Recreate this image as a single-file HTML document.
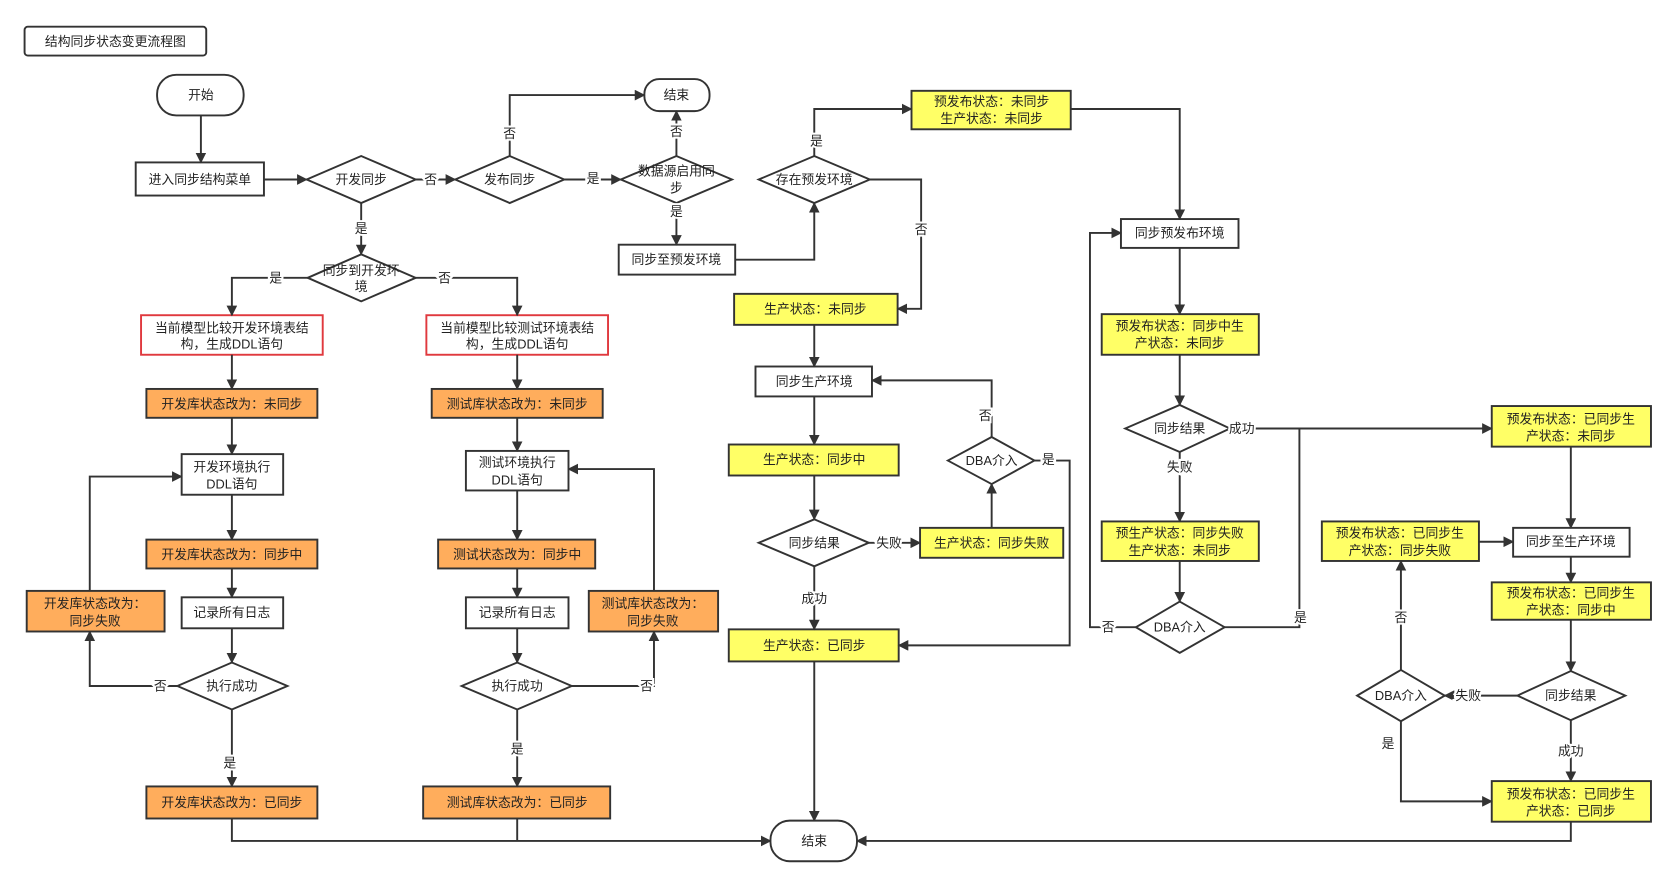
<!DOCTYPE html>
<html><head><meta charset="utf-8"><style>
html,body{margin:0;padding:0;background:#fff;}
svg{display:block;}
text{font-family:"Liberation Sans","Noto Sans CJK SC",sans-serif;font-size:12px;fill:#222;text-anchor:middle;dominant-baseline:central;}
.lbl{paint-order:stroke;stroke:#fff;stroke-width:4px;}
</style></head><body>
<svg width="1667" height="881" viewBox="0 0 1560 824.5" preserveAspectRatio="none" xmlns="http://www.w3.org/2000/svg">
<defs><marker id="a" markerWidth="10" markerHeight="10" refX="9" refY="5" orient="auto" markerUnits="userSpaceOnUse"><path d="M0,0 L10,5 L0,10 z" fill="#333"/></marker></defs>
<g fill="none" stroke="#333" stroke-width="1.8">
<!-- title -->
<rect x="23" y="25" width="170" height="27" rx="3" fill="#fff"/>
<!-- start -->
<rect x="147" y="70" width="81" height="38" rx="18" fill="#fff"/>
<rect x="127" y="152" width="120" height="31" fill="#fff"/>
<polygon points="287,168 338,146 389,168 338,190" fill="#fff"/>
<polygon points="426,168 477,146 528,168 477,190" fill="#fff"/>
<polygon points="581,168 633,146 685,168 633,190" fill="#fff"/>
<rect x="603" y="74" width="61" height="30" rx="14" fill="#fff"/>
<rect x="579" y="229" width="109" height="28" fill="#fff"/>
<polygon points="710,168 762,146 814,168 762,190" fill="#fff"/>
<rect x="853" y="85" width="149" height="36" fill="#ffff66"/>
<!-- middle -->
<rect x="687" y="275" width="153" height="29" fill="#ffff66"/>
<rect x="707" y="343" width="109" height="28" fill="#fff"/>
<rect x="682" y="416" width="159" height="29" fill="#ffff66"/>
<polygon points="710,508 762,486 813,508 762,530" fill="#fff"/>
<rect x="861" y="494" width="134" height="28" fill="#ffff66"/>
<polygon points="887,431 928,409 968,431 928,453" fill="#fff"/>
<rect x="682" y="589" width="159" height="30" fill="#ffff66"/>
<rect x="721" y="768" width="81" height="38" rx="18" fill="#fff"/>
<!-- left -->
<polygon points="288,260 338,238 389,260 338,282" fill="#fff"/>
<rect x="132" y="295" width="170" height="37" fill="#fff" stroke="#e0393e"/>
<rect x="399" y="295" width="170" height="37" fill="#fff" stroke="#e0393e"/>
<rect x="137" y="364" width="160" height="27" fill="#ffad5c"/>
<rect x="404" y="364" width="160" height="27" fill="#ffad5c"/>
<rect x="170" y="425" width="95" height="38" fill="#fff"/>
<rect x="436" y="422" width="96" height="37" fill="#fff"/>
<rect x="137" y="505" width="160" height="27" fill="#ffad5c"/>
<rect x="410" y="505" width="147" height="27" fill="#ffad5c"/>
<rect x="170" y="559" width="95" height="29" fill="#fff"/>
<rect x="436" y="559" width="96" height="29" fill="#fff"/>
<polygon points="166,642 217,620 269,642 217,664" fill="#fff"/>
<polygon points="432,642 484,620 535,642 484,664" fill="#fff"/>
<rect x="25" y="553" width="129" height="38" fill="#ffad5c"/>
<rect x="551" y="553" width="121" height="38" fill="#ffad5c"/>
<rect x="137" y="736" width="160" height="30" fill="#ffad5c"/>
<rect x="396" y="736" width="175" height="30" fill="#ffad5c"/>
<!-- right -->
<rect x="1049" y="205" width="110" height="27" fill="#fff"/>
<rect x="1031" y="294" width="147" height="38" fill="#ffff66"/>
<polygon points="1053,401 1104,379 1151,401 1104,423" fill="#fff"/>
<rect x="1031" y="488" width="147" height="37" fill="#ffff66"/>
<polygon points="1063,587 1104,563 1146,587 1104,611" fill="#fff"/>
<rect x="1396" y="380" width="149" height="38" fill="#ffff66"/>
<rect x="1416" y="494" width="109" height="27" fill="#fff"/>
<rect x="1237" y="488" width="147" height="37" fill="#ffff66"/>
<rect x="1396" y="545" width="149" height="35" fill="#ffff66"/>
<polygon points="1420,651 1470,628 1521,651 1470,674" fill="#fff"/>
<polygon points="1270,651 1311,627 1352,651 1311,675" fill="#fff"/>
<rect x="1396" y="731" width="149" height="38" fill="#ffff66"/>
</g>
<g fill="none" stroke="#333" stroke-width="1.8" marker-end="url(#a)">
<path d="M188,108 V152"/>
<path d="M247,168 H287"/>
<path d="M389,168 H426"/>
<path d="M528,168 H581"/>
<path d="M477,146 V89 H603"/>
<path d="M633,146 V104"/>
<path d="M633,190 V229"/>
<path d="M688,243 H762 V190"/>
<path d="M762,146 V102 H853"/>
<path d="M814,168 H862 V289 H840"/>
<path d="M762,304 V343"/>
<path d="M762,371 V416"/>
<path d="M762,445 V486"/>
<path d="M813,508 H861"/>
<path d="M928,494 V453"/>
<path d="M928,409 V356 H816"/>
<path d="M968,431 H1001 V604 H841"/>
<path d="M762,530 V589"/>
<path d="M762,619 V768"/>
<path d="M217,766 V787 H721"/>
<path d="M484,766 V787" marker-end="none"/>
<path d="M1470,769 V787 H802"/>
<path d="M338,190 V238"/>
<path d="M288,260 H217 V295"/>
<path d="M389,260 H484 V295"/>
<path d="M217,332 V364"/>
<path d="M484,332 V364"/>
<path d="M217,391 V425"/>
<path d="M484,391 V422"/>
<path d="M217,463 V505"/>
<path d="M484,459 V505"/>
<path d="M217,532 V559"/>
<path d="M484,532 V559"/>
<path d="M217,588 V620"/>
<path d="M484,588 V620"/>
<path d="M166,642 H84 V591"/>
<path d="M84,553 V446 H170"/>
<path d="M535,642 H612 V591"/>
<path d="M612,553 V439 H532"/>
<path d="M217,664 V736"/>
<path d="M484,664 V736"/>
<path d="M1002,102 H1104 V205"/>
<path d="M1104,232 V294"/>
<path d="M1104,332 V379"/>
<path d="M1151,401 H1396"/>
<path d="M1104,423 V488"/>
<path d="M1104,525 V563"/>
<path d="M1063,587 H1020 V218 H1049"/>
<path d="M1146,587 H1216 V401" marker-end="none"/>
<path d="M1470,418 V494"/>
<path d="M1384,507 H1416"/>
<path d="M1470,521 V545"/>
<path d="M1470,580 V628"/>
<path d="M1420,651 H1352"/>
<path d="M1311,627 V525"/>
<path d="M1311,675 V750 H1396"/>
<path d="M1470,674 V731"/>
</g>
<!-- node text -->
<text x="108" y="39">结构同步状态变更流程图</text>
<text x="188" y="89">开始</text>
<text x="187" y="168">进入同步结构菜单</text>
<text x="338" y="168">开发同步</text>
<text x="477" y="168">发布同步</text>
<text x="633" y="160">数据源启用同</text>
<text x="633" y="176">步</text>
<text x="633" y="89">结束</text>
<text x="633" y="243">同步至预发环境</text>
<text x="762" y="168">存在预发环境</text>
<text x="928" y="95">预发布状态：未同步</text>
<text x="928" y="111">生产状态：未同步</text>
<text x="763" y="289">生产状态：未同步</text>
<text x="762" y="357">同步生产环境</text>
<text x="762" y="430">生产状态：同步中</text>
<text x="762" y="508">同步结果</text>
<text x="928" y="508">生产状态：同步失败</text>
<text x="928" y="431">DBA介入</text>
<text x="762" y="604">生产状态：已同步</text>
<text x="762" y="787">结束</text>
<text x="338" y="253">同步到开发环</text>
<text x="338" y="268">境</text>
<text x="217" y="307">当前模型比较开发环境表结</text>
<text x="217" y="322">构，生成DDL语句</text>
<text x="484" y="307">当前模型比较测试环境表结</text>
<text x="484" y="322">构，生成DDL语句</text>
<text x="217" y="378">开发库状态改为：未同步</text>
<text x="484" y="378">测试库状态改为：未同步</text>
<text x="217" y="437">开发环境执行</text>
<text x="217" y="453">DDL语句</text>
<text x="484" y="433">测试环境执行</text>
<text x="484" y="449">DDL语句</text>
<text x="217" y="519">开发库状态改为：同步中</text>
<text x="484" y="519">测试状态改为：同步中</text>
<text x="217" y="573">记录所有日志</text>
<text x="484" y="573">记录所有日志</text>
<text x="217" y="642">执行成功</text>
<text x="484" y="642">执行成功</text>
<text x="89" y="565">开发库状态改为：</text>
<text x="89" y="581">同步失败</text>
<text x="611" y="565">测试库状态改为：</text>
<text x="611" y="581">同步失败</text>
<text x="217" y="751">开发库状态改为：已同步</text>
<text x="484" y="751">测试库状态改为：已同步</text>
<text x="1104" y="218">同步预发布环境</text>
<text x="1104" y="305">预发布状态：同步中生</text>
<text x="1104" y="321">产状态：未同步</text>
<text x="1104" y="401">同步结果</text>
<text x="1104" y="499">预生产状态：同步失败</text>
<text x="1104" y="515">生产状态：未同步</text>
<text x="1104" y="587">DBA介入</text>
<text x="1470" y="392">预发布状态：已同步生</text>
<text x="1470" y="408">产状态：未同步</text>
<text x="1470" y="507">同步至生产环境</text>
<text x="1310" y="499">预发布状态：已同步生</text>
<text x="1310" y="515">产状态：同步失败</text>
<text x="1470" y="555">预发布状态：已同步生</text>
<text x="1470" y="571">产状态：同步中</text>
<text x="1470" y="651">同步结果</text>
<text x="1311" y="651">DBA介入</text>
<text x="1470" y="743">预发布状态：已同步生</text>
<text x="1470" y="759">产状态：已同步</text>
<!-- edge labels -->
<text class="lbl" x="403" y="168">否</text>
<text class="lbl" x="555" y="167">是</text>
<text class="lbl" x="477" y="125">否</text>
<text class="lbl" x="633" y="123">否</text>
<text class="lbl" x="633" y="198">是</text>
<text class="lbl" x="764" y="132">是</text>
<text class="lbl" x="862" y="215">否</text>
<text class="lbl" x="832" y="508">失败</text>
<text class="lbl" x="922" y="389">否</text>
<text class="lbl" x="981" y="430">是</text>
<text class="lbl" x="762" y="560">成功</text>
<text class="lbl" x="338" y="214">是</text>
<text class="lbl" x="258" y="260">是</text>
<text class="lbl" x="416" y="260">否</text>
<text class="lbl" x="150" y="642">否</text>
<text class="lbl" x="605" y="642">否</text>
<text class="lbl" x="215" y="714">是</text>
<text class="lbl" x="484" y="701">是</text>
<text class="lbl" x="1162" y="401">成功</text>
<text class="lbl" x="1104" y="437">失败</text>
<text class="lbl" x="1037" y="587">否</text>
<text class="lbl" x="1217" y="578">是</text>
<text class="lbl" x="1374" y="651">失败</text>
<text class="lbl" x="1311" y="578">否</text>
<text class="lbl" x="1299" y="696">是</text>
<text class="lbl" x="1470" y="703">成功</text>
</svg>
</body></html>
